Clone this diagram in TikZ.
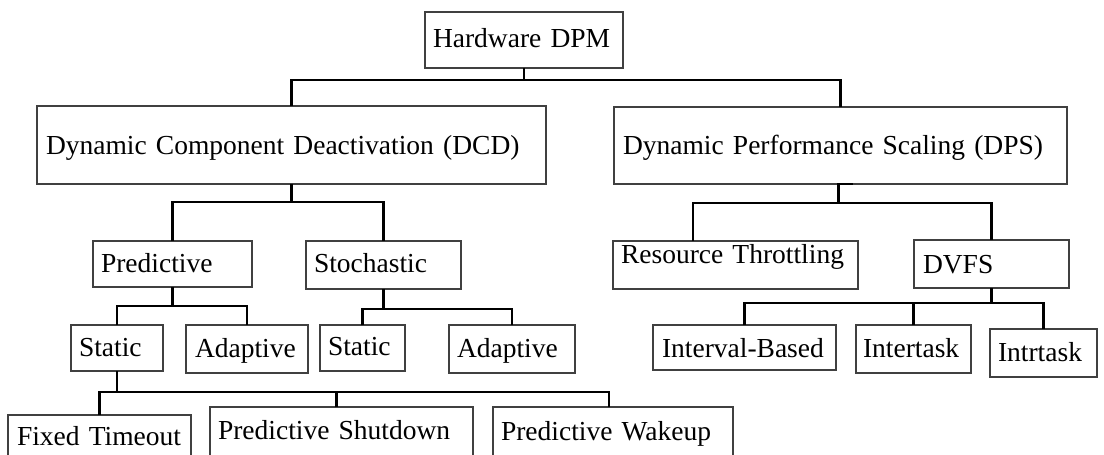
\documentclass[tikz,border=0pt]{standalone}
\usepackage{fontspec}
\setmainfont{Liberation Serif}
\usetikzlibrary{calc}
\newcommand\bxfont{\fontsize{27.5pt}{33pt}\selectfont}
\tikzset{
  box/.style={draw=black!75, line width=1.1pt, anchor=north west, inner ysep=0pt,
    outer sep=0pt, align=left, font=\bxfont, text=black},
  conn/.style={draw=black, line width=2.3pt, line join=miter},
}
\begin{document}
\begin{tikzpicture}[x=1pt,y=-1pt]
\path[use as bounding box] (0,0) rectangle (1104,455);
\clip (0,0) rectangle (1104,455);
\fill[white] (0,0) rectangle (1104,455);

% boxes
\node[box, inner xsep=8pt, text width=182pt, text height=35pt, text depth=21pt] (hw) at (425,12) {\mbox{Hardware DPM}};
\node[box, inner xsep=9pt, text width=491pt, text height=48pt, text depth=30pt] (dcd) at (37,106) {\mbox{Dynamic Component Deactivation (DCD)}};
\node[box, inner xsep=9pt, text width=435pt, text height=47pt, text depth=30pt] (dps) at (614,107) {\mbox{Dynamic Performance Scaling (DPS)}};
\node[box, inner xsep=8pt, text width=143pt, text height=31pt, text depth=15pt] (pred) at (93,241) {\mbox{Predictive}};
\node[box, inner xsep=8pt, text width=139pt, text height=31pt, text depth=17pt] (stoch) at (306,241) {\mbox{Stochastic}};
\node[box, inner xsep=8pt, text width=76pt, text height=31pt, text depth=15pt] (st1) at (71,325) {\mbox{Static}};
\node[box, inner xsep=9pt, text width=104pt, text height=32pt, text depth=16pt] (ad1) at (186,325) {\mbox{Adaptive}};
\node[box, inner xsep=8pt, text width=69pt, text height=30pt, text depth=16pt] (st2) at (320,325) {\mbox{Static}};
\node[box, inner xsep=8pt, text width=110pt, text height=32pt, text depth=16pt] (ad2) at (449,325) {\mbox{Adaptive}};
\node[box, inner xsep=9pt, text width=165pt, text height=30pt, text depth=25pt] (ft) at (8,415) {\mbox{Fixed Timeout}};
\node[box, inner xsep=8pt, text width=247pt, text height=32pt, text depth=31pt] (ps) at (210,407) {\mbox{Predictive Shutdown}};
\node[box, inner xsep=8pt, text width=224pt, text height=33pt, text depth=30pt] (pw) at (493,407) {\mbox{Predictive Wakeup}};
\node[box, inner xsep=8pt, text width=229pt, text height=22pt, text depth=26pt] (rt) at (613,241) {\mbox{Resource Throttling}};
\node[box, inner xsep=9pt, text width=137pt, text height=33pt, text depth=15pt] (dvfs) at (914,240) {\mbox{DVFS}};
\node[box, inner xsep=9pt, text width=165pt, text height=32pt, text depth=13pt] (ib) at (653,325) {\mbox{Interval-Based}};
\node[box, inner xsep=7pt, text width=101pt, text height=32pt, text depth=16pt] (it) at (856,325) {\mbox{Intertask}};
\node[box, inner xsep=8pt, text width=91pt, text height=32pt, text depth=16pt] (itr) at (990,329) {\mbox{Intrtask}};

% bar levels and offset attachment points
\coordinate (b1) at (0,80);
\coordinate (b2) at (0,202);
\coordinate (b3) at (0,203);
\coordinate (b4) at (0,306);
\coordinate (b5) at (0,309);
\coordinate (b6) at (0,392);
\coordinate (b7) at (0,303);
\coordinate (rtc) at ($(rt.north west)+(80,0)$);
\coordinate (dpsc) at ([xshift=-2pt]dps.south);
\coordinate (dpst) at ([xshift=12pt]dps.south);
\coordinate (psc) at ([xshift=-5pt]ps.north);
\coordinate (pwc) at ([xshift=-4pt]pw.north);

% connectors
\draw[conn] (hw.south) -- (hw.south |- b1);
\draw[conn] (dcd.north) -- (dcd.north |- b1) -- (dps.north |- b1) -- (dps.north);

\draw[conn] (dcd.south) -- (dcd.south |- b2);
\draw[conn] (pred.north) -- (pred.north |- b2) -- (stoch.north |- b2) -- (stoch.north);

\draw[conn] (dpst) -- (dpsc) -- (dpsc |- b3);
\draw[conn] (rtc) -- (rtc |- b3) -- (dvfs.north |- b3) -- (dvfs.north);

\draw[conn] (pred.south) -- (pred.south |- b4);
\draw[conn] (st1.north) -- (st1.north |- b4) -- (ad1.north |- b4) -- (ad1.north);

\draw[conn] (stoch.south) -- (stoch.south |- b5);
\draw[conn] (st2.north) -- (st2.north |- b5) -- (ad2.north |- b5) -- (ad2.north);

\draw[conn] (st1.south) -- (st1.south |- b6);
\draw[conn] (ft.north) -- (ft.north |- b6) -- (pwc |- b6) -- (pwc);
\draw[conn] (psc) -- (psc |- b6);

\draw[conn] (dvfs.south) -- (dvfs.south |- b7);
\draw[conn] (ib.north) -- (ib.north |- b7) -- (itr.north |- b7) -- (itr.north);
\draw[conn] (it.north) -- (it.north |- b7);
\end{tikzpicture}
\end{document}
